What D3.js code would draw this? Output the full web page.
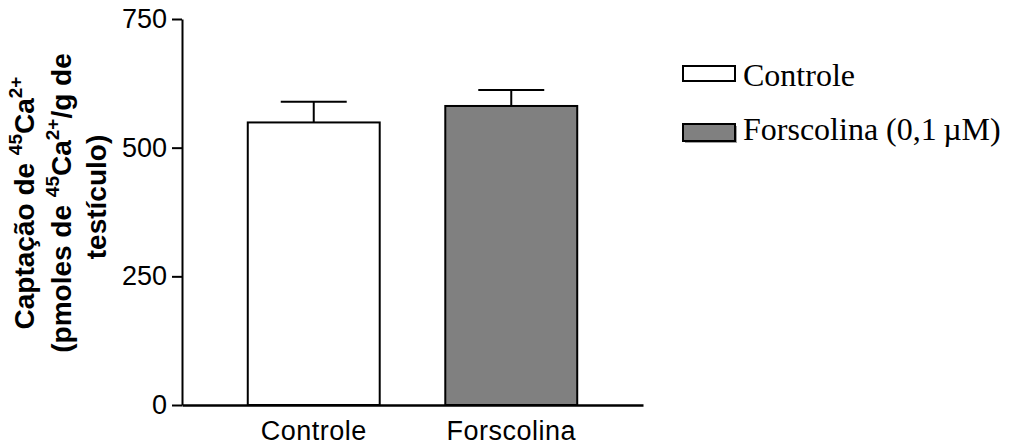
<!DOCTYPE html>
<html>
<head>
<meta charset="utf-8">
<script src="https://cdn.jsdelivr.net/npm/d3@7"></script>
<style>
  html, body { margin: 0; padding: 0; background: #fff; }
  svg { display: block; }
</style>
</head>
<body>
<svg id="chart" width="1010" height="448"></svg>
<script>
const categories = ["Controle", "Forscolina"];
const means = [549, 581];
const errors = [40, 31];
const fills = ["#ffffff", "#808080"];
const legendLabels = ["Controle", "Forscolina (0,1\u2009\u00b5M)"];
const yTicks = [0, 250, 500, 750];

const svg = d3.select("#chart");
const x0 = 182, x1 = 643, yTop = 19, yBot = 405;

const x = d3.scaleBand().domain(categories).range([x0, x1])
  .paddingInner(0.332).paddingOuter(0.333);
const y = d3.scaleLinear().domain([0, 750]).range([yBot, yTop]);

// bars
svg.selectAll("rect.bar").data(categories).join("rect")
  .attr("class", "bar")
  .attr("x", d => x(d))
  .attr("y", (d, i) => y(means[i]))
  .attr("width", x.bandwidth())
  .attr("height", (d, i) => y(0) - y(means[i]))
  .attr("fill", (d, i) => fills[i])
  .attr("stroke", "#000")
  .attr("stroke-width", 2);

// error bars
const eb = svg.selectAll("g.err").data(categories).join("g").attr("class", "err");
eb.append("line")
  .attr("x1", d => x(d) + x.bandwidth() / 2)
  .attr("x2", d => x(d) + x.bandwidth() / 2)
  .attr("y1", (d, i) => y(means[i]))
  .attr("y2", (d, i) => y(means[i] + errors[i]))
  .attr("stroke", "#000").attr("stroke-width", 2);
eb.append("line")
  .attr("x1", d => x(d) + x.bandwidth() / 4)
  .attr("x2", d => x(d) + x.bandwidth() * 3 / 4)
  .attr("y1", (d, i) => y(means[i] + errors[i]))
  .attr("y2", (d, i) => y(means[i] + errors[i]))
  .attr("stroke", "#000").attr("stroke-width", 2);

// y axis
const yAxis = svg.append("g")
  .attr("transform", `translate(${x0},0)`)
  .call(d3.axisLeft(y).tickValues(yTicks).tickSize(10).tickPadding(5).tickSizeOuter(0));
yAxis.select(".domain").attr("stroke-width", 2);
yAxis.selectAll(".tick line").attr("stroke-width", 2);
yAxis.selectAll(".tick text")
  .attr("font-family", "Liberation Sans, Arial, sans-serif")
  .attr("font-size", 27).attr("fill", "#000");

// x axis
const xAxis = svg.append("g")
  .attr("transform", `translate(0,${yBot})`)
  .call(d3.axisBottom(x).tickSize(0).tickPadding(16).tickSizeOuter(0));
xAxis.select(".domain").attr("stroke-width", 2.5);
xAxis.selectAll(".tick text")
  .attr("font-family", "Liberation Sans, Arial, sans-serif")
  .attr("font-size", 27).attr("fill", "#000")
  .attr("letter-spacing", "0.5px");

// y title
const title = svg.append("text")
  .attr("transform", `translate(0,203) rotate(-90)`)
  .attr("text-anchor", "middle")
  .attr("font-family", "Liberation Sans, Arial, sans-serif")
  .attr("font-weight", "bold")
  .attr("font-size", 28)
  .attr("fill", "#000");
const supSize = 19, supDy = 12;
// line 1
title.append("tspan").attr("x", 0).attr("y", 34).text("Captação de ");
title.append("tspan").attr("font-size", supSize).attr("dy", -supDy).text("45");
title.append("tspan").attr("dy", supDy).text("Ca");
title.append("tspan").attr("font-size", supSize).attr("dy", -supDy).text("2+");
// line 2
title.append("tspan").attr("x", 0).attr("y", 71).text("(pmoles de ");
title.append("tspan").attr("font-size", supSize).attr("dy", -supDy).text("45");
title.append("tspan").attr("dy", supDy).text("Ca");
title.append("tspan").attr("font-size", supSize).attr("dy", -supDy).text("2+");
title.append("tspan").attr("dy", supDy).text("/g de");
// line 3
title.append("tspan").attr("x", 6).attr("y", 106).text("testículo)");

// legend
const legY = [66, 124];
const lg = svg.selectAll("g.leg").data(legendLabels).join("g").attr("class", "leg")
  .attr("transform", (d, i) => `translate(683,${legY[i]})`);
lg.filter((d, i) => i === 1).append("rect")
  .attr("x", 2).attr("y", 2).attr("width", 52).attr("height", 17)
  .attr("fill", "#a0a0a0");
lg.append("rect")
  .attr("x", 0).attr("y", 0).attr("width", 52).attr("height", (d, i) => i === 0 ? 15 : 17)
  .attr("fill", (d, i) => fills[i])
  .attr("stroke", "#000").attr("stroke-width", 2);
lg.append("text")
  .attr("x", 60).attr("y", (d, i) => i === 0 ? 20 : 16)
  .attr("font-family", "Liberation Serif, Times New Roman, serif")
  .attr("font-size", 32)
  .attr("fill", "#000")
  .text(d => d);
</script>
</body>
</html>
